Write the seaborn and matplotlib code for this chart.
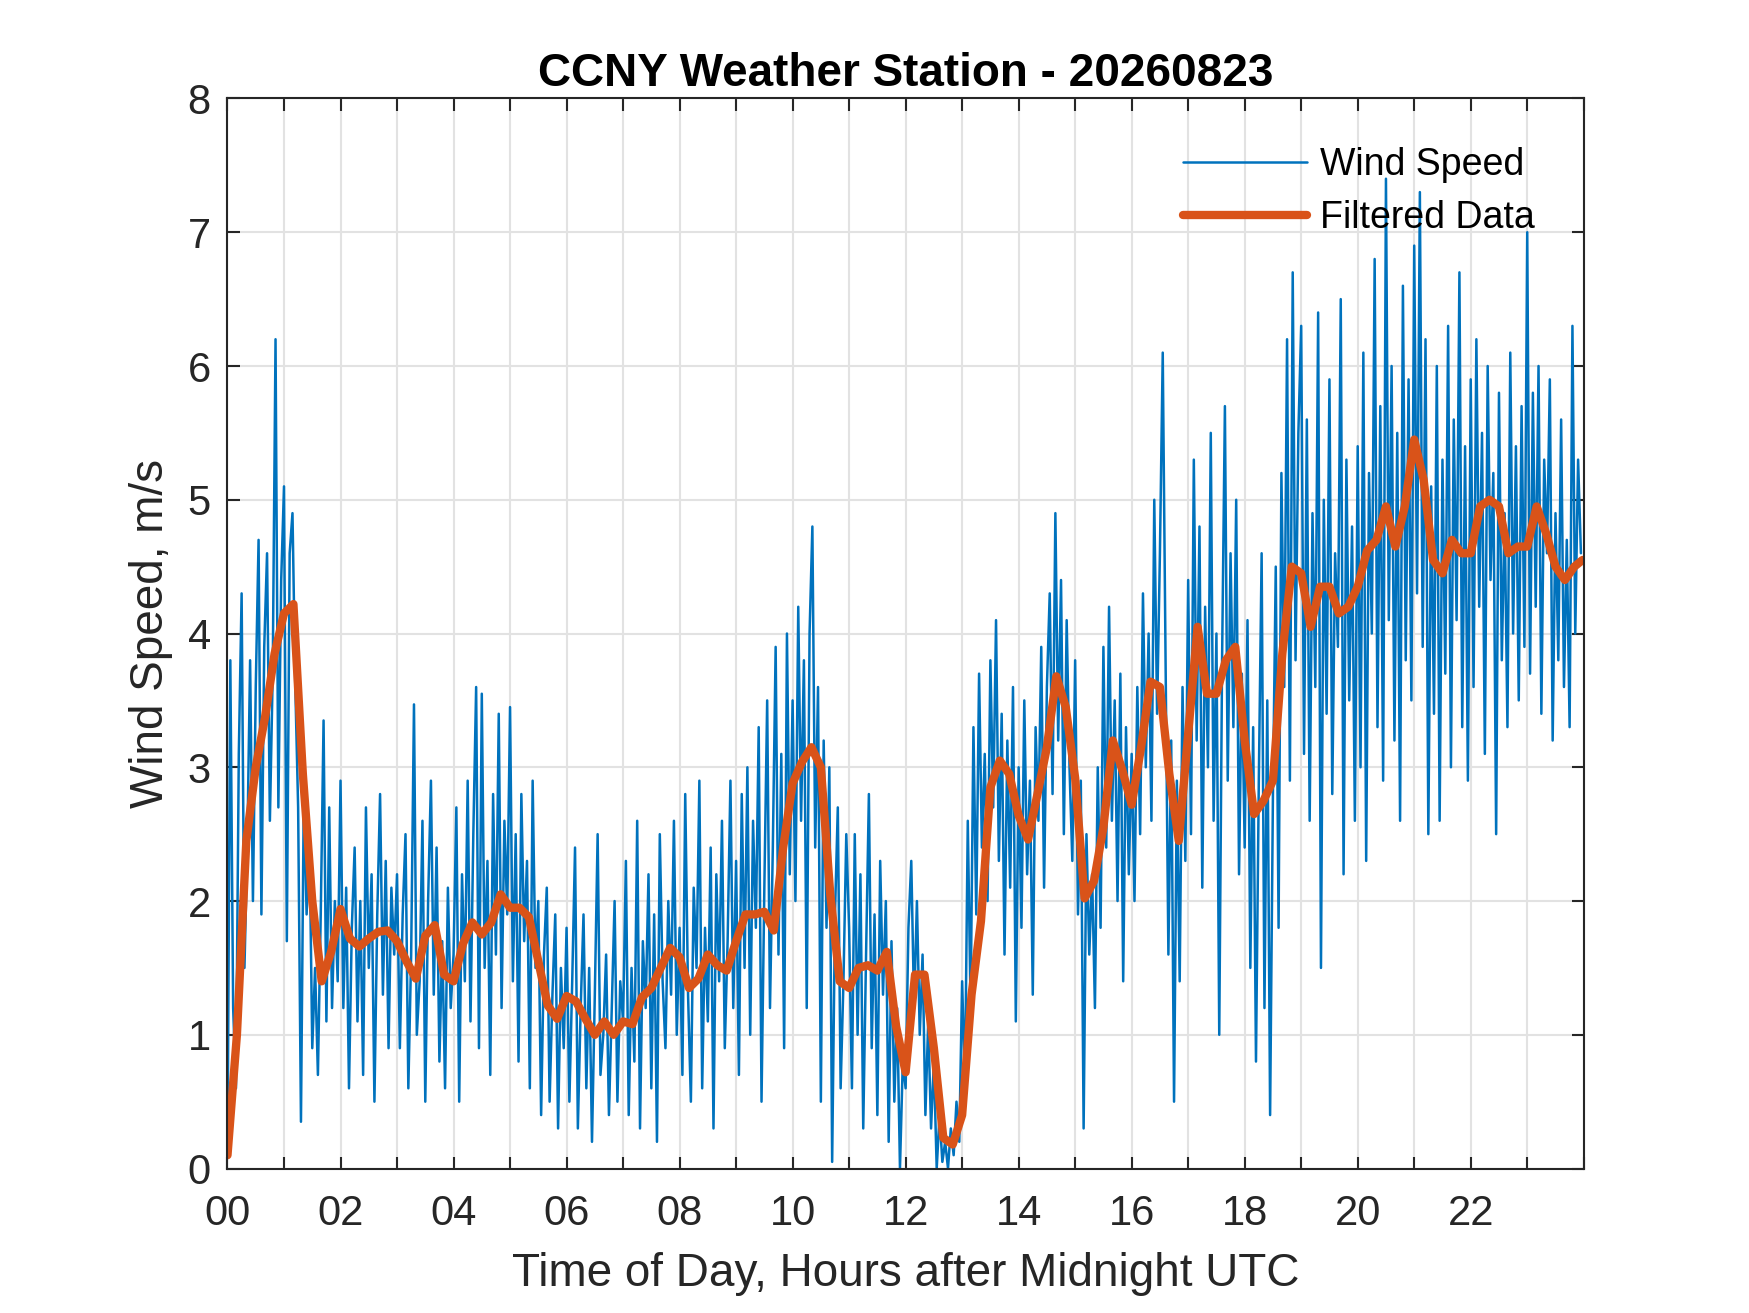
import numpy as np
import pandas as pd
import matplotlib
matplotlib.use("Agg")
import matplotlib.pyplot as plt
import seaborn as sns

# raw wind speed, one value every 3 minutes (20 per hour), m/s
wind_h00 = [0.1, 3.8, 1.2, 0.6, 3.1, 4.3, 1.5, 2.4, 3.8, 2.0, 3.6, 4.7, 1.9, 3.9, 4.6, 2.6, 3.7, 6.2, 2.7, 4.4]
wind_h01 = [5.1, 1.7, 4.6, 4.9, 3.6, 2.7, 0.35, 2.8, 1.9, 2.5, 0.9, 1.5, 0.7, 1.9, 3.35, 1.1, 2.7, 1.2, 2.0, 1.4]
wind_h02 = [2.9, 1.2, 2.1, 0.6, 1.8, 2.4, 1.1, 2.0, 0.7, 2.7, 1.5, 2.2, 0.5, 1.9, 2.8, 1.3, 2.3, 0.9, 2.1, 1.6]
wind_h03 = [2.2, 0.9, 1.9, 2.5, 0.6, 1.6, 3.47, 1.0, 1.4, 2.6, 0.5, 2.0, 2.9, 1.3, 2.4, 0.8, 1.7, 0.6, 2.1, 1.2]
wind_h04 = [1.6, 2.7, 0.5, 2.2, 1.4, 2.9, 1.1, 2.5, 3.6, 0.9, 3.55, 1.5, 2.3, 0.7, 2.8, 1.6, 3.4, 1.2, 2.6, 1.9]
wind_h05 = [3.45, 1.4, 2.5, 0.8, 2.8, 1.7, 2.3, 0.6, 2.9, 1.5, 2.0, 0.4, 1.6, 2.1, 0.5, 1.3, 1.9, 0.3, 1.5, 0.9]
wind_h06 = [1.8, 0.5, 1.4, 2.4, 0.3, 1.2, 1.9, 0.6, 1.5, 0.2, 1.3, 2.5, 0.7, 1.0, 1.6, 0.4, 1.2, 2.0, 0.5, 1.4]
wind_h07 = [1.1, 2.3, 0.4, 1.5, 0.8, 2.6, 0.3, 1.7, 1.2, 2.2, 0.6, 1.9, 0.2, 2.5, 1.4, 0.9, 2.0, 1.3, 2.6, 1.0]
wind_h08 = [1.8, 0.7, 2.8, 1.3, 0.5, 2.1, 1.5, 2.9, 0.6, 1.8, 1.1, 2.4, 0.3, 2.2, 1.4, 2.6, 0.9, 1.7, 2.9, 1.2]
wind_h09 = [2.3, 0.7, 2.8, 1.5, 3.0, 1.0, 2.6, 1.8, 3.3, 0.5, 2.1, 3.5, 1.2, 2.4, 3.9, 1.6, 3.1, 0.9, 4.0, 2.2]
wind_h10 = [3.5, 2.0, 4.2, 2.6, 3.8, 1.2, 4.0, 4.8, 2.4, 3.6, 0.5, 3.2, 1.8, 3.0, 0.05, 1.9, 2.7, 0.6, 1.4, 2.5]
wind_h11 = [1.8, 0.6, 2.5, 1.0, 2.2, 0.3, 1.6, 2.8, 0.9, 1.9, 0.4, 2.3, 1.3, 2.0, 0.2, 1.7, 0.5, 1.2, 0.0, 0.8]
wind_h12 = [0.6, 1.8, 2.3, 1.2, 2.0, 1.0, 1.6, 0.4, 1.1, 0.3, 0.8, 0.0, 0.4, 0.05, 0.2, 0.0, 0.3, 0.1, 0.5, 0.2]
wind_h13 = [1.4, 0.6, 2.6, 1.2, 3.3, 1.9, 3.7, 2.4, 3.1, 2.0, 3.8, 2.7, 4.1, 2.3, 3.4, 1.6, 3.2, 2.1, 3.6, 1.1]
wind_h14 = [3.0, 1.8, 3.5, 2.2, 2.9, 1.3, 3.3, 2.6, 3.9, 2.1, 3.6, 4.3, 2.8, 4.9, 3.2, 4.4, 2.5, 4.1, 3.0, 2.3]
wind_h15 = [3.8, 1.9, 2.9, 0.3, 2.5, 1.6, 2.2, 1.2, 3.0, 1.8, 3.9, 2.4, 4.2, 2.6, 3.5, 2.0, 3.7, 1.4, 3.3, 2.2]
wind_h16 = [3.1, 2.0, 3.6, 2.5, 4.3, 3.0, 4.0, 2.6, 5.0, 3.4, 4.6, 6.1, 3.8, 1.6, 3.2, 0.5, 2.9, 1.4, 3.6, 2.3]
wind_h17 = [4.4, 2.5, 5.3, 3.2, 4.8, 2.1, 4.2, 3.0, 5.5, 2.6, 4.0, 1.0, 3.8, 5.7, 2.9, 4.6, 3.3, 5.0, 2.2, 3.7]
wind_h18 = [2.4, 4.1, 1.5, 3.3, 0.8, 2.9, 4.6, 1.2, 3.5, 0.4, 2.8, 4.5, 1.8, 5.2, 3.6, 6.2, 2.9, 6.7, 3.8, 5.5]
wind_h19 = [6.3, 3.1, 5.6, 2.6, 4.9, 3.6, 6.4, 1.5, 5.0, 3.4, 5.9, 2.8, 4.6, 3.9, 6.5, 2.2, 5.3, 3.5, 4.8, 2.6]
wind_h20 = [5.4, 3.0, 6.1, 2.3, 5.2, 4.0, 6.8, 3.3, 5.7, 2.9, 7.4, 4.1, 6.0, 3.2, 5.5, 2.6, 6.6, 3.8, 5.9, 3.5]
wind_h21 = [6.9, 4.3, 7.3, 3.9, 6.2, 2.5, 5.1, 3.4, 6.0, 2.6, 5.3, 3.7, 6.3, 3.0, 5.6, 4.1, 6.7, 3.3, 5.4, 2.9]
wind_h22 = [5.9, 3.6, 6.2, 4.2, 5.5, 3.1, 6.0, 4.4, 5.2, 2.5, 5.8, 3.8, 4.9, 3.3, 6.1, 4.0, 5.4, 3.5, 5.7, 3.9]
wind_h23 = [7.0, 3.7, 5.8, 4.2, 6.0, 3.4, 5.3, 4.6, 5.9, 3.2, 4.9, 3.8, 5.6, 3.6, 4.7, 3.3, 6.3, 4.0, 5.3, 4.6]

# filtered wind speed, one value every 10 minutes (6 per hour), m/s
filt_00_04 = [0.10, 1.00, 2.45, 3.00, 3.38, 3.85,
              4.15, 4.22, 2.95, 2.00, 1.40, 1.62,
              1.94, 1.72, 1.66, 1.72, 1.77, 1.78,
              1.70, 1.55, 1.42, 1.74, 1.82, 1.45]
filt_04_08 = [1.40, 1.68, 1.84, 1.75, 1.84, 2.05,
              1.95, 1.95, 1.88, 1.55, 1.22, 1.12,
              1.29, 1.25, 1.12, 1.00, 1.10, 1.00,
              1.10, 1.08, 1.28, 1.35, 1.50, 1.65]
filt_08_12 = [1.58, 1.35, 1.42, 1.60, 1.52, 1.48,
              1.70, 1.90, 1.90, 1.92, 1.78, 2.40,
              2.88, 3.04, 3.15, 3.00, 2.05, 1.40,
              1.35, 1.50, 1.52, 1.48, 1.62, 1.06]
filt_12_16 = [0.72, 1.45, 1.45, 0.90, 0.23, 0.18,
              0.40, 1.30, 1.85, 2.85, 3.05, 2.95,
              2.64, 2.46, 2.80, 3.15, 3.68, 3.45,
              2.92, 2.02, 2.15, 2.55, 3.20, 2.98]
filt_16_20 = [2.72, 3.15, 3.64, 3.60, 2.95, 2.45,
              3.25, 4.05, 3.55, 3.55, 3.80, 3.90,
              3.20, 2.65, 2.75, 2.90, 3.85, 4.50,
              4.45, 4.05, 4.35, 4.35, 4.15, 4.20]
filt_20_24 = [4.35, 4.62, 4.70, 4.95, 4.65, 4.95,
              5.45, 5.15, 4.55, 4.45, 4.70, 4.60,
              4.60, 4.95, 5.00, 4.95, 4.60, 4.65,
              4.65, 4.95, 4.75, 4.50, 4.40, 4.50, 4.55]

hour_ticks = list(range(0, 25))
hour_labels = [f"{h:02d}" if h % 2 == 0 and h < 24 else "" for h in hour_ticks]

wind = np.concatenate([wind_h00, wind_h01, wind_h02, wind_h03, wind_h04, wind_h05,
                       wind_h06, wind_h07, wind_h08, wind_h09, wind_h10, wind_h11,
                       wind_h12, wind_h13, wind_h14, wind_h15, wind_h16, wind_h17,
                       wind_h18, wind_h19, wind_h20, wind_h21, wind_h22, wind_h23])
filt = np.concatenate([filt_00_04, filt_04_08, filt_08_12, filt_12_16, filt_16_20, filt_20_24])

t_wind = np.arange(len(wind)) * 3 / 60
t_filt = np.arange(len(filt)) * 10 / 60
t_filt[-1] = 23.98

df_wind = pd.DataFrame({"t": t_wind, "v": wind})
df_filt = pd.DataFrame({"t": t_filt, "v": filt})

sns.set_theme(style="white")
plt.rcParams['font.family'] = ['Liberation Sans', 'DejaVu Sans']

grey = "#262626"
fig = plt.figure(figsize=(5.8333, 4.3767), dpi=300)
ax = fig.add_axes([0.13, 0.11, 0.775, 0.815])

sns.lineplot(data=df_wind, x="t", y="v", ax=ax, color="#0072BD", linewidth=0.6,
             estimator=None, sort=False, label="Wind Speed")
sns.lineplot(data=df_filt, x="t", y="v", ax=ax, color="#D95319", linewidth=2.0,
             estimator=None, sort=False, label="Filtered Data")

ax.set_xlim(0, 24)
ax.set_ylim(0, 8)
ax.set_xticks(hour_ticks)
ax.set_xticklabels(hour_labels)
ax.set_yticks(range(0, 9))

ax.grid(True, color="#e2e2e2", linewidth=0.5)
ax.set_axisbelow(True)
for s in ax.spines.values():
    s.set_color(grey)
    s.set_linewidth(0.5)
ax.tick_params(direction="in", length=3, width=0.5, colors=grey, labelsize=10,
               top=True, right=True, bottom=True, left=True)
ax.tick_params(axis="x", pad=6)
ax.tick_params(axis="y", pad=4)

ax.set_xlabel("Time of Day, Hours after Midnight UTC", fontsize=11, color=grey, labelpad=4.5)
ax.set_ylabel("Wind Speed, m/s", fontsize=11, color=grey, labelpad=3.5)
ax.set_title("CCNY Weather Station - 20260823", fontsize=11, fontweight="bold", color="black", pad=3)

leg = ax.legend(loc="upper right", frameon=False, fontsize=9, handlelength=3.3,
                handletextpad=0.35, borderaxespad=0.9, labelspacing=0.45)
for t in leg.get_texts():
    t.set_color("black")

fig.savefig("out.png", dpi=300)
